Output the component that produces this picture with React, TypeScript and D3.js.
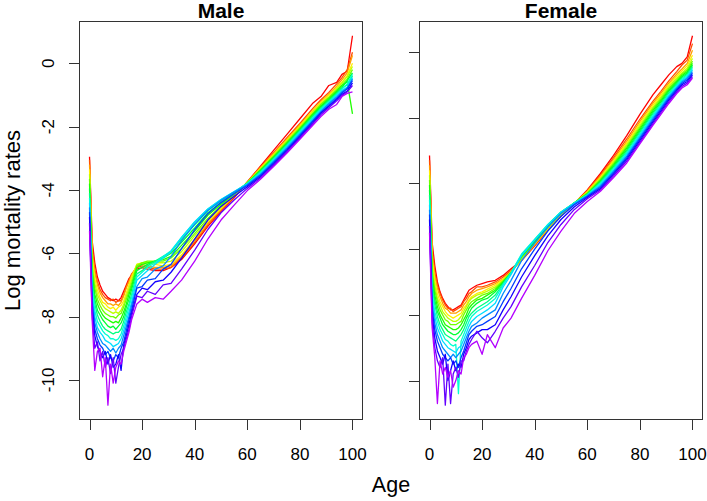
import React from "react";
import * as d3 from "d3";

// Ages at which the rates are read (rows of the rate matrices)
const AGES = [0,1,2,3,4,5,6,7,8,9,10,11,12,13,14,15,16,18,20,22,25,28,31,35,40,45,50,55,60,65,70,75,80,85,88,91,94,96,98,100];
// Years (columns of the rate matrices), earliest -> latest
const YEARS = [1950,1954,1958,1962,1966,1970,1974,1978,1982,1986,1990,1994,1998,2002,2006,2010];
const X_TICKS = [0,20,40,60,80,100];
const Y_TICKS = [-10,-8,-6,-4,-2,0];
const PANEL_TITLES = ["Male","Female"];

// Log mortality rates, male: one row per age, one value per year
const MALE_RATES = [
  [-2.95,-3.05,-3.2,-3.35,-3.5,-3.65,-3.8,-3.95,-4.1,-4.25,-4.4,-4.55,-4.7,-4.85,-5.05,-5.3],
  [-5.6,-5.8,-5.95,-6.1,-6.3,-6.45,-6.6,-6.8,-6.95,-7.1,-7.3,-7.45,-7.6,-7.8,-7.95,-8.1],
  [-6.3,-6.5,-6.6,-6.8,-6.95,-7.1,-7.3,-7.45,-7.6,-7.8,-8.0,-8.2,-8.4,-8.6,-9.0,-9.7],
  [-6.75,-6.9,-7.0,-7.15,-7.3,-7.45,-7.6,-7.8,-7.95,-8.15,-8.35,-8.5,-8.7,-8.95,-8.8,-9.1],
  [-7.0,-7.15,-7.25,-7.4,-7.5,-7.65,-7.8,-7.95,-8.15,-8.3,-8.5,-8.7,-8.9,-9.1,-9.4,-9.0],
  [-7.2,-7.3,-7.4,-7.55,-7.65,-7.8,-7.95,-8.1,-8.3,-8.45,-8.6,-8.85,-9.0,-9.3,-9.1,-9.9],
  [-7.3,-7.4,-7.5,-7.6,-7.75,-7.9,-8.05,-8.2,-8.4,-8.55,-8.75,-8.9,-9.2,-9.1,-9.6,-9.3],
  [-7.4,-7.45,-7.6,-7.7,-7.8,-7.95,-8.1,-8.3,-8.45,-8.6,-8.8,-9.0,-9.1,-9.5,-9.3,-10.8],
  [-7.45,-7.5,-7.6,-7.75,-7.85,-8.0,-8.15,-8.35,-8.5,-8.7,-8.85,-9.1,-9.3,-9.2,-9.8,-9.5],
  [-7.5,-7.45,-7.65,-7.7,-7.9,-8.0,-8.2,-8.3,-8.55,-8.7,-8.95,-9.0,-9.4,-9.6,-9.3,-10.1],
  [-7.45,-7.55,-7.6,-7.8,-7.85,-8.05,-8.15,-8.4,-8.5,-8.75,-8.9,-9.15,-9.2,-9.5,-10.1,-9.6],
  [-7.5,-7.5,-7.65,-7.7,-7.9,-7.95,-8.2,-8.3,-8.5,-8.7,-8.85,-9.0,-9.3,-9.2,-9.6,-9.4],
  [-7.4,-7.5,-7.55,-7.65,-7.8,-7.9,-8.05,-8.2,-8.4,-8.55,-8.7,-8.9,-9.0,-9.7,-9.2,-9.5],
  [-7.2,-7.3,-7.35,-7.5,-7.6,-7.7,-7.85,-8.0,-8.15,-8.3,-8.45,-8.6,-8.8,-8.9,-9.0,-9.1],
  [-7.0,-7.05,-7.1,-7.25,-7.35,-7.45,-7.6,-7.7,-7.85,-8.0,-8.15,-8.3,-8.45,-8.6,-8.7,-8.8],
  [-6.8,-6.85,-6.9,-7.0,-7.1,-7.2,-7.3,-7.45,-7.6,-7.7,-7.85,-8.0,-8.1,-8.25,-8.4,-8.5],
  [-6.7,-6.65,-6.7,-6.75,-6.85,-6.95,-7.05,-7.15,-7.3,-7.4,-7.55,-7.65,-7.8,-7.9,-8.0,-8.1],
  [-6.5,-6.45,-6.4,-6.35,-6.35,-6.4,-6.45,-6.55,-6.65,-6.75,-6.85,-7.05,-7.1,-7.3,-7.35,-7.6],
  [-6.45,-6.4,-6.35,-6.3,-6.3,-6.3,-6.35,-6.45,-6.55,-6.6,-6.7,-6.8,-7.05,-7.1,-7.4,-7.45],
  [-6.5,-6.45,-6.4,-6.3,-6.28,-6.25,-6.3,-6.35,-6.4,-6.45,-6.55,-6.75,-6.85,-7.15,-7.2,-7.55],
  [-6.55,-6.5,-6.45,-6.35,-6.3,-6.25,-6.25,-6.25,-6.25,-6.3,-6.35,-6.5,-6.8,-6.9,-7.3,-7.4],
  [-6.55,-6.5,-6.45,-6.4,-6.3,-6.25,-6.2,-6.15,-6.1,-6.1,-6.15,-6.4,-6.5,-6.85,-7.0,-7.45],
  [-6.45,-6.45,-6.4,-6.35,-6.25,-6.15,-6.1,-6.0,-5.95,-5.92,-5.95,-6.1,-6.35,-6.6,-6.95,-7.2],
  [-6.2,-6.15,-6.1,-6.05,-5.95,-5.85,-5.75,-5.65,-5.55,-5.5,-5.5,-5.6,-5.85,-6.15,-6.5,-6.85],
  [-5.7,-5.65,-5.6,-5.55,-5.45,-5.38,-5.3,-5.2,-5.1,-5.02,-5.0,-5.08,-5.25,-5.55,-5.9,-6.25],
  [-5.15,-5.1,-5.05,-5.0,-4.95,-4.9,-4.8,-4.72,-4.65,-4.6,-4.6,-4.65,-4.75,-4.95,-5.25,-5.55],
  [-4.68,-4.65,-4.62,-4.58,-4.55,-4.5,-4.45,-4.4,-4.35,-4.3,-4.3,-4.33,-4.4,-4.52,-4.72,-4.95],
  [-4.25,-4.22,-4.2,-4.18,-4.16,-4.14,-4.12,-4.1,-4.08,-4.06,-4.05,-4.07,-4.12,-4.2,-4.32,-4.48],
  [-3.75,-3.75,-3.76,-3.76,-3.77,-3.77,-3.78,-3.78,-3.79,-3.8,-3.81,-3.83,-3.86,-3.9,-3.95,-4.02],
  [-3.25,-3.27,-3.3,-3.32,-3.34,-3.36,-3.38,-3.4,-3.42,-3.45,-3.48,-3.51,-3.54,-3.58,-3.62,-3.66],
  [-2.75,-2.82,-2.85,-2.88,-2.9,-2.93,-2.96,-2.98,-3.01,-3.04,-3.07,-3.1,-3.14,-3.18,-3.22,-3.26],
  [-2.25,-2.36,-2.4,-2.43,-2.46,-2.49,-2.52,-2.55,-2.58,-2.61,-2.64,-2.68,-2.72,-2.76,-2.8,-2.84],
  [-1.75,-1.9,-1.94,-1.98,-2.01,-2.04,-2.07,-2.1,-2.13,-2.16,-2.2,-2.24,-2.28,-2.32,-2.36,-2.4],
  [-1.25,-1.42,-1.5,-1.48,-1.55,-1.58,-1.6,-1.65,-1.67,-1.72,-1.75,-1.8,-1.82,-1.87,-1.9,-1.95],
  [-1.05,-1.15,-1.2,-1.24,-1.28,-1.3,-1.35,-1.37,-1.42,-1.44,-1.48,-1.52,-1.55,-1.58,-1.62,-1.68],
  [-0.7,-0.92,-0.98,-1.0,-1.06,-1.08,-1.12,-1.16,-1.18,-1.22,-1.26,-1.28,-1.33,-1.36,-1.4,-1.45],
  [-0.6,-0.65,-0.72,-0.76,-0.8,-0.84,-0.88,-0.92,-0.95,-0.98,-1.02,-1.06,-1.1,-1.14,-1.18,-1.3],
  [-0.35,-0.45,-0.52,-0.6,-0.62,-0.68,-0.7,-0.76,-0.78,-0.82,-0.86,-0.9,-0.94,-0.98,-1.02,-1.05],
  [-0.25,-0.2,-0.3,-0.38,-0.42,-0.5,-0.58,-0.55,-0.68,-0.65,-0.75,-0.78,-0.8,-0.88,-0.9,-0.95],
  [0.87,0.35,0.25,0.0,-0.1,-0.2,-1.6,-0.3,-0.4,-0.35,-0.45,-0.5,-0.55,-0.62,-0.7,-0.9],
];

// Log mortality rates, female: one row per age, one value per year
const FEMALE_RATES = [
  [-3.15,-3.3,-3.45,-3.6,-3.75,-3.9,-4.05,-4.2,-4.35,-4.5,-4.65,-4.8,-4.95,-5.1,-5.3,-5.5],
  [-5.8,-6.0,-6.15,-6.3,-6.5,-6.65,-6.8,-7.0,-7.15,-7.3,-7.5,-7.65,-7.8,-8.0,-8.2,-8.4],
  [-6.5,-6.7,-6.8,-6.95,-7.1,-7.25,-7.4,-7.55,-7.7,-7.9,-8.05,-8.25,-8.45,-8.7,-9.0,-9.3],
  [-7.0,-7.1,-7.2,-7.35,-7.5,-7.6,-7.75,-7.9,-8.05,-8.2,-8.4,-8.6,-8.8,-9.1,-9.4,-10.7],
  [-7.3,-7.35,-7.45,-7.6,-7.7,-7.85,-8.0,-8.1,-8.3,-8.45,-8.6,-8.8,-9.0,-9.3,-9.6,-9.4],
  [-7.5,-7.55,-7.65,-7.75,-7.9,-8.0,-8.15,-8.3,-8.45,-8.6,-8.8,-9.0,-9.2,-9.5,-9.3,-9.8],
  [-7.65,-7.7,-7.8,-7.9,-8.0,-8.15,-8.3,-8.4,-8.6,-8.75,-8.9,-9.1,-9.3,-9.2,-10.75,-9.6],
  [-7.75,-7.8,-7.85,-8.0,-8.1,-8.2,-8.35,-8.5,-8.65,-8.8,-9.0,-9.2,-9.4,-10.0,-9.5,-9.9],
  [-7.85,-7.8,-7.95,-8.05,-8.15,-8.3,-8.4,-8.55,-8.7,-8.9,-9.05,-9.3,-9.3,-9.7,-10.7,-9.7],
  [-7.85,-7.9,-7.95,-8.1,-8.2,-8.3,-8.45,-8.6,-8.75,-8.95,-9.1,-9.2,-9.5,-9.4,-9.8,-10.2],
  [-7.8,-7.85,-7.95,-8.05,-8.2,-8.3,-8.45,-8.6,-8.8,-8.9,-9.15,-9.3,-9.4,-9.7,-9.6,-10.0],
  [-7.75,-7.8,-7.9,-8.0,-8.15,-8.25,-8.4,-8.55,-8.7,-10.4,-9.0,-9.2,-9.6,-9.5,-9.9,-9.7],
  [-7.7,-7.75,-7.85,-7.95,-8.05,-8.2,-8.3,-8.45,-8.6,-8.8,-8.95,-9.1,-9.3,-9.6,-9.4,-9.8],
  [-7.55,-7.6,-7.7,-7.8,-7.9,-8.0,-8.15,-8.3,-8.45,-8.6,-8.75,-8.9,-9.1,-9.2,-9.4,-9.3],
  [-7.4,-7.5,-7.6,-7.7,-7.75,-7.85,-8.0,-8.1,-8.25,-8.4,-8.55,-8.7,-8.85,-9.0,-9.1,-9.2],
  [-7.25,-7.35,-7.45,-7.55,-7.6,-7.7,-7.8,-7.95,-8.05,-8.2,-8.35,-8.5,-8.6,-8.75,-8.9,-9.0],
  [-7.2,-7.3,-7.35,-7.45,-7.5,-7.6,-7.7,-7.8,-7.95,-8.05,-8.2,-8.35,-8.5,-8.65,-8.75,-8.9],
  [-7.1,-7.15,-7.25,-7.35,-7.4,-7.5,-7.55,-7.65,-7.8,-7.9,-8.05,-8.25,-8.35,-8.55,-8.5,-8.8],
  [-7.05,-7.15,-7.2,-7.3,-7.35,-7.4,-7.5,-7.55,-7.7,-7.8,-7.95,-8.1,-8.3,-8.45,-8.7,-9.2],
  [-7.0,-7.1,-7.15,-7.22,-7.28,-7.35,-7.4,-7.5,-7.6,-7.7,-7.85,-8.0,-8.2,-8.45,-8.85,-8.6],
  [-6.95,-7.0,-7.05,-7.1,-7.15,-7.2,-7.25,-7.3,-7.4,-7.5,-7.65,-7.85,-8.05,-8.3,-8.5,-9.0],
  [-6.8,-6.85,-6.9,-6.92,-6.95,-6.97,-7.0,-7.02,-7.05,-7.08,-7.15,-7.35,-7.6,-7.85,-8.1,-8.4],
  [-6.6,-6.65,-6.68,-6.7,-6.72,-6.72,-6.72,-6.72,-6.72,-6.72,-6.78,-6.95,-7.2,-7.45,-7.75,-8.1],
  [-6.35,-6.35,-6.33,-6.3,-6.28,-6.25,-6.22,-6.2,-6.18,-6.15,-6.2,-6.35,-6.6,-6.85,-7.15,-7.5],
  [-5.9,-5.88,-5.86,-5.84,-5.82,-5.8,-5.78,-5.75,-5.72,-5.7,-5.72,-5.82,-6.0,-6.2,-6.5,-6.8],
  [-5.42,-5.4,-5.39,-5.37,-5.35,-5.33,-5.31,-5.28,-5.26,-5.25,-5.27,-5.33,-5.45,-5.6,-5.8,-6.05],
  [-5.0,-4.98,-4.96,-4.95,-4.93,-4.92,-4.9,-4.88,-4.87,-4.87,-4.88,-4.92,-5.0,-5.1,-5.25,-5.45],
  [-4.62,-4.62,-4.62,-4.61,-4.6,-4.6,-4.6,-4.6,-4.6,-4.6,-4.61,-4.63,-4.66,-4.72,-4.8,-4.92],
  [-4.2,-4.22,-4.24,-4.26,-4.28,-4.3,-4.32,-4.33,-4.34,-4.35,-4.36,-4.38,-4.4,-4.43,-4.47,-4.55],
  [-3.7,-3.75,-3.78,-3.82,-3.85,-3.88,-3.91,-3.94,-3.97,-4.0,-4.04,-4.08,-4.12,-4.16,-4.2,-4.24],
  [-3.15,-3.22,-3.27,-3.32,-3.36,-3.4,-3.44,-3.48,-3.52,-3.56,-3.6,-3.64,-3.68,-3.72,-3.77,-3.82],
  [-2.55,-2.65,-2.72,-2.78,-2.83,-2.88,-2.93,-2.98,-3.03,-3.08,-3.12,-3.17,-3.22,-3.27,-3.32,-3.38],
  [-1.9,-2.05,-2.12,-2.18,-2.24,-2.3,-2.35,-2.4,-2.45,-2.5,-2.55,-2.6,-2.65,-2.7,-2.75,-2.8],
  [-1.3,-1.5,-1.56,-1.62,-1.68,-1.73,-1.78,-1.83,-1.88,-1.93,-1.98,-2.03,-2.08,-2.13,-2.18,-2.23],
  [-1.0,-1.2,-1.26,-1.32,-1.38,-1.43,-1.48,-1.53,-1.58,-1.62,-1.66,-1.7,-1.75,-1.8,-1.85,-1.9],
  [-0.7,-0.88,-0.95,-1.0,-1.06,-1.11,-1.16,-1.2,-1.25,-1.3,-1.34,-1.38,-1.42,-1.47,-1.52,-1.57],
  [-0.45,-0.6,-0.68,-0.74,-0.8,-0.85,-0.9,-0.94,-0.98,-1.02,-1.06,-1.1,-1.14,-1.18,-1.22,-1.27],
  [-0.35,-0.4,-0.52,-0.58,-0.64,-0.68,-0.72,-0.76,-0.8,-0.84,-0.88,-0.92,-0.96,-1.0,-1.05,-1.1],
  [-0.15,-0.25,-0.35,-0.42,-0.5,-0.55,-0.6,-0.64,-0.68,-0.72,-0.76,-0.8,-0.85,-0.9,-0.95,-1.0],
  [0.49,0.25,0.05,-0.1,-0.2,-0.28,-0.35,-0.4,-0.45,-0.5,-0.55,-0.6,-0.65,-0.7,-0.75,-0.8],
];

const W = 707;
const H = 501;
const TOP = 21;
const BOTTOM = 420;
const PANELS = [
  { left: 79, right: 363, rates: MALE_RATES, showY: true },
  { left: 419, right: 703, rates: FEMALE_RATES, showY: false },
];
const FONT = "'Liberation Sans', Arial, Helvetica, sans-serif";
const AXIS_COLOR = "#333";

const colorScale = d3
  .scaleLinear<number>()
  .domain([0, YEARS.length - 1])
  .range([0, 282]);
const yearColor = (j: number) => d3.hsl(colorScale(j), 1, 0.5).formatHex();

function Panel({ idx }: { idx: number }) {
  const p = PANELS[idx];
  const all = p.rates.flat();
  const [mn, mx] = d3.extent(all) as [number, number];
  const pad = (mx - mn) * 0.04;
  const x = d3.scaleLinear().domain([-4, 104]).range([p.left, p.right]);
  const y = d3.scaleLinear().domain([mn - pad, mx + pad]).range([BOTTOM, TOP]);
  const line = d3
    .line<number>()
    .x((_, i) => x(AGES[i]))
    .y((v) => y(v));
  const cx = (p.left + p.right) / 2;
  return (
    <g>
      {YEARS.map((yr, j) => (
        <path
          key={yr}
          d={line(p.rates.map((row) => row[j])) || ""}
          fill="none"
          stroke={yearColor(j)}
          strokeWidth={1.3}
          strokeLinejoin="round"
        />
      ))}
      <rect
        x={p.left + 0.5}
        y={TOP + 0.5}
        width={p.right - p.left - 1}
        height={BOTTOM - TOP - 1}
        fill="none"
        stroke={AXIS_COLOR}
        strokeWidth={1}
      />
      {X_TICKS.map((t) => (
        <g key={"x" + t}>
          <line
            x1={Math.round(x(t)) + 0.5}
            x2={Math.round(x(t)) + 0.5}
            y1={BOTTOM}
            y2={BOTTOM + 10}
            stroke={AXIS_COLOR}
          />
          <text
            x={x(t)}
            y={460}
            textAnchor="middle"
            fontFamily={FONT}
            fontSize={17}
            fill="#000"
          >
            {t}
          </text>
        </g>
      ))}
      {Y_TICKS.map((t) => (
        <g key={"y" + t}>
          <line
            x1={p.left - 10}
            x2={p.left}
            y1={Math.round(y(t)) + 0.5}
            y2={Math.round(y(t)) + 0.5}
            stroke={AXIS_COLOR}
          />
          {p.showY && (
            <text
              transform={`translate(54,${y(t)}) rotate(-90)`}
              textAnchor="middle"
              fontFamily={FONT}
              fontSize={17}
              fill="#000"
            >
              {t}
            </text>
          )}
        </g>
      ))}
      <text
        x={cx}
        y={18}
        textAnchor="middle"
        fontFamily={FONT}
        fontSize={21}
        fontWeight="bold"
        fill="#000"
      >
        {PANEL_TITLES[idx]}
      </text>
    </g>
  );
}

export default function App() {
  return (
    <svg
      width={W}
      height={H}
      viewBox={`0 0 ${W} ${H}`}
      style={{ position: "absolute", left: 0, top: 0, background: "#fff" }}
    >
      <rect x={0} y={0} width={W} height={H} fill="#fff" />
      <Panel idx={0} />
      <Panel idx={1} />
      <text
        transform={`translate(20,${(TOP + BOTTOM) / 2}) rotate(-90)`}
        textAnchor="middle"
        fontFamily={FONT}
        fontSize={22}
        fill="#000"
      >
        Log mortality rates
      </text>
      <text
        x={(PANELS[0].left + PANELS[1].right) / 2}
        y={492}
        textAnchor="middle"
        fontFamily={FONT}
        fontSize={21.5}
        fill="#000"
      >
        Age
      </text>
    </svg>
  );
}
